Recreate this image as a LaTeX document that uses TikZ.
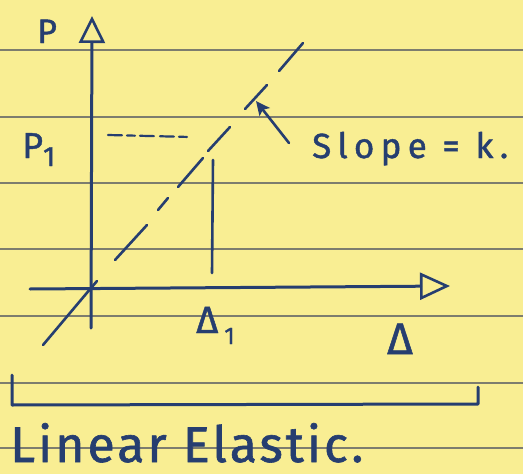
\documentclass[tikz,border=0pt]{standalone}
\usepackage{fontspec}
\setmainfont{Fira Sans}[FakeBold=1.2]
\usetikzlibrary{arrows.meta}
\definecolor{paper}{RGB}{249,238,147}
\definecolor{ink}{RGB}{38,62,112}
\definecolor{ruleline}{RGB}{125,125,110}
\begin{document}
\begin{tikzpicture}[x=1pt,y=-1pt,
  axis/.style={draw=ink, line width=3pt, line cap=round},
  thin/.style={draw=ink, line width=2.6pt, line cap=round},
  lbl/.style={text=ink, inner sep=0pt},
  paperline/.style={draw=ruleline, line width=1.3pt}]
\useasboundingbox (0,0) rectangle (523,474);
\fill[paper] (0,0) rectangle (523,474);
% ruled lines
\foreach \yy in {50,117,183,249,316,383,448}
  \draw[paperline] (0,\yy) -- (523,\yy);
% coordinates
\coordinate (O) at (91,288);
\coordinate (ybot) at (91,328);
\coordinate (ytop) at (92,16);
\coordinate (xleft) at (30,289);
\coordinate (xtip) at (450,286);
\coordinate (dA) at (43,345);
\coordinate (dO) at (97,281);
\coordinate (v1) at (213,160);
\coordinate (v2) at (212,273);
\coordinate (h1) at (108,135);
\coordinate (h2) at (190,137);
\coordinate (arrS) at (289,143);
\coordinate (arrE) at (256,101);
% dash ends of the load line
\coordinate (d1a) at (115,260); \coordinate (d1b) at (147,225);
\coordinate (d2a) at (158,210); \coordinate (d2b) at (168,198);
\coordinate (d3a) at (178,187); \coordinate (d3b) at (203,158);
\coordinate (d4a) at (208,151); \coordinate (d4b) at (230,127);
\coordinate (d5a) at (245,109); \coordinate (d5b) at (267,85);
\coordinate (d6a) at (279,71);  \coordinate (d6b) at (303,43);
% axes
\draw[axis, -{Triangle[open, length=27pt, width=26pt, line width=2.6pt]}] (ybot) -- (ytop);
\draw[axis, -{Triangle[open, length=30pt, width=27pt, line width=2.6pt]}] (xleft) -- (xtip);
% load line
\draw[thin] (dA) -- (O) -- (dO);
\draw[thin] (d1a) -- (d1b) (d2a) -- (d2b) (d3a) -- (d3b)
            (d4a) -- (d4b) (d5a) -- (d5b) (d6a) -- (d6b);
% P1 line and Delta1 line
\draw[thin, line width=2.2pt, dash pattern=on 14pt off 5pt on 8pt off 5pt on 14pt off 6pt] (h1) -- (h2);
\draw[thin] (v1) -- (v2);
% slope arrow
\draw[thin, -{Stealth[length=14pt, width=13pt, inset=3pt]}] (arrS) -- (arrE);
% bracket
\coordinate (b1) at (12,375);
\coordinate (b2) at (12,405);
\coordinate (b3) at (478,404);
\coordinate (b4) at (478,387);
\draw[axis, line join=round] (b1) -- (b2) -- (b3) -- (b4);
% labels
\node[lbl, font=\fontsize{34}{36}\selectfont, anchor=base west] (P) at (37,43) {P};
\node[lbl, font=\fontsize{36}{38}\selectfont, anchor=base west] (P1) at (22,158) {P\raisebox{-8pt}{\fontsize{28}{30}\selectfont 1}};
\node[lbl, font=\fontsize{35}{38}\selectfont, anchor=base west] (slope) at (312,158) {\addfontfeature{LetterSpace=18}Slope = k.};
\node[lbl, font=\fontsize{38}{40}\selectfont, anchor=base west] (D1) at (196,333) {Δ\kern6pt\raisebox{-11pt}{\fontsize{24}{26}\selectfont 1}};
\node[lbl, font=\fontsize{44}{46}\selectfont, anchor=base] (D) at (400,354) {Δ};
\node[lbl, font=\fontsize{50}{54}\selectfont, anchor=base west] (title) at (10,462) {\addfontfeature{LetterSpace=6}Linear Elastic.};
\end{tikzpicture}
\end{document}
